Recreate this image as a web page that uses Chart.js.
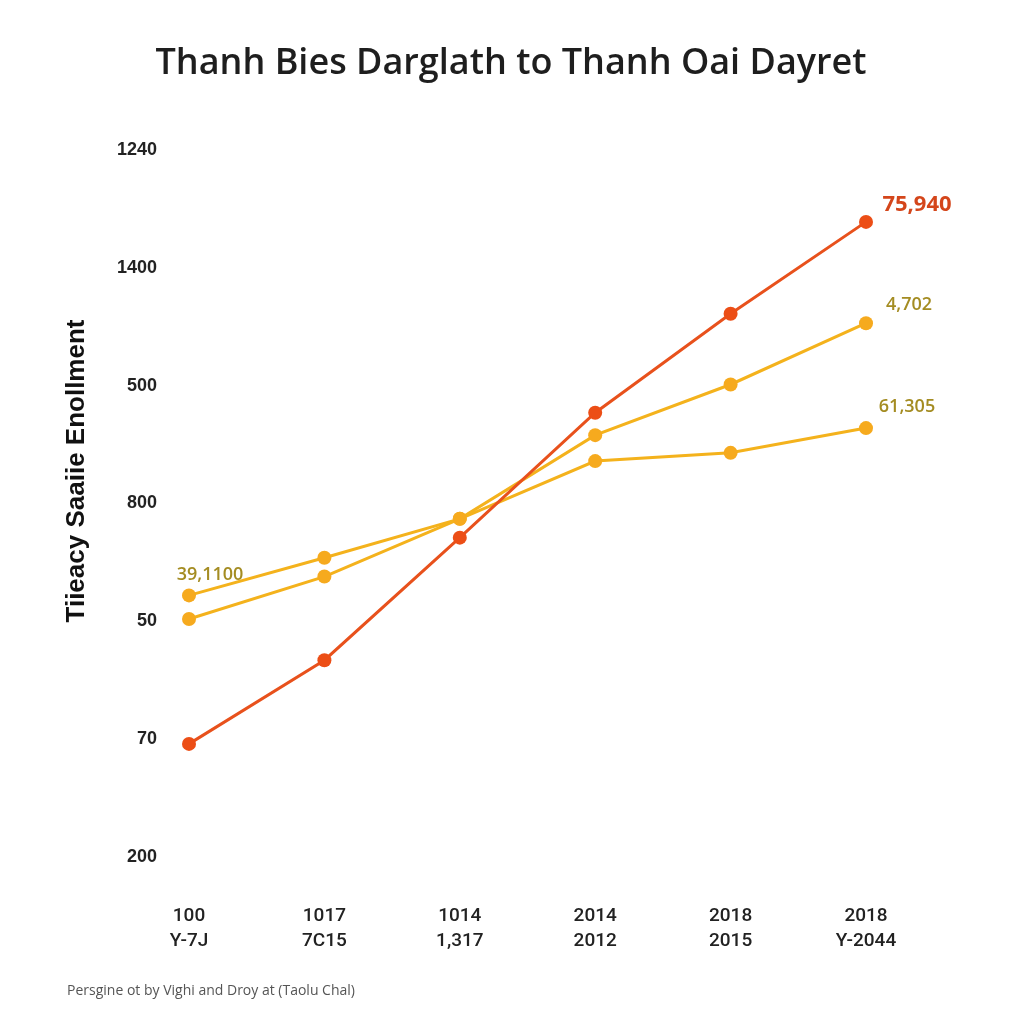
<!DOCTYPE html>
<html>
<head>
<meta charset="utf-8">
<script src="https://cdn.jsdelivr.net/npm/chart.js@4/dist/chart.umd.min.js"></script>
<style>
  html, body { margin: 0; padding: 0; background: #ffffff; }
  #wrap { position: relative; width: 1024px; height: 1024px; }
  #footer { position: absolute; left: 67px; top: 980px; font: 14px "Open Sans", sans-serif; color: #555; }
</style>
</head>
<body>
<div id="wrap">
  <canvas id="c" width="1024" height="1024"></canvas>
  <div id="footer">Persgine ot by Vighi and Droy at (Taolu Chal)</div>
</div>
<script>
const titleText = "Thanh Bies Darglath to Thanh Oai Dayret";
const yAxisTitle = "Tiieacy Saaiie Enollment";
const categories = [["100", "Y-7J"], ["1017", "7C15"], ["1014", "1,317"], ["2014", "2012"], ["2018", "2015"], ["2018", "Y-2044"]];
const yTickLabels = ["200", "70", "50", "800", "500", "1400", "1240"];
const redValues = [0.96, 1.67, 2.71, 3.77, 4.61, 5.39];
const upperYellowValues = [2.22, 2.54, 2.87, 3.58, 4.01, 4.53];
const lowerYellowValues = [2.02, 2.38, 2.87, 3.36, 3.43, 3.64];
const redLabels = [null, null, null, null, null, "75,940"];
const upperYellowLabels = ["39,1100", null, null, null, null, "4,702"];
const lowerYellowLabels = [null, null, null, null, null, "61,305"];

const labelStyles = [
  { color: "#d4461b", font: "bold 22px 'Open Sans', sans-serif", dx: 51, dy: -17 },
  { color: "#a48c22", font: "600 18px 'Open Sans', sans-serif", dx: 21, dy: -21, lastDx: 43, lastDy: -18 },
  { color: "#a48c22", font: "600 18px 'Open Sans', sans-serif", dx: 41, dy: -21 }
];

const textPlugin = {
  id: "textDecor",
  afterDraw(chart) {
    const ctx = chart.ctx;
    ctx.save();
    ctx.fillStyle = "#1e1e1e";
    ctx.font = "600 36px 'Open Sans', sans-serif";
    ctx.textAlign = "center";
    ctx.textBaseline = "middle";
    ctx.fillText(titleText, 511, 64);
    ctx.translate(77, 471);
    ctx.rotate(-Math.PI / 2);
    ctx.fillStyle = "#111";
    ctx.font = "bold 26px 'Liberation Sans', Arial, sans-serif";
    ctx.fillText(yAxisTitle, 0, 0);
    ctx.restore();
  },
  afterDatasetsDraw(chart) {
    const ctx = chart.ctx;
    chart.data.datasets.forEach((ds, i) => {
      const meta = chart.getDatasetMeta(i);
      const st = labelStyles[i];
      ds.pointLabels.forEach((txt, j) => {
        if (!txt) return;
        const p = meta.data[j];
        let dx = st.dx, dy = st.dy;
        if (j === ds.pointLabels.length - 1 && st.lastDx !== undefined) { dx = st.lastDx; dy = st.lastDy; }
        ctx.save();
        ctx.font = st.font;
        ctx.fillStyle = st.color;
        ctx.textAlign = "center";
        ctx.textBaseline = "middle";
        ctx.fillText(txt, p.x + dx, p.y + dy);
        ctx.restore();
      });
    });
  }
};

new Chart(document.getElementById("c"), {
  type: "line",
  data: {
    labels: categories,
    datasets: [
      { data: redValues, pointLabels: redLabels, borderColor: "#e8511c", backgroundColor: "#e8511c", borderWidth: 3, pointRadius: 7, pointBackgroundColor: "#ec4e16", pointBorderWidth: 0, tension: 0 },
      { data: upperYellowValues, pointLabels: upperYellowLabels, borderColor: "#f4b21c", backgroundColor: "#f4b21c", borderWidth: 3, pointRadius: 7, pointBackgroundColor: "#f6aa1e", pointBorderWidth: 0, tension: 0 },
      { data: lowerYellowValues, pointLabels: lowerYellowLabels, borderColor: "#f4b21c", backgroundColor: "#f4b21c", borderWidth: 3, pointRadius: 7, pointBackgroundColor: "#f6aa1e", pointBorderWidth: 0, tension: 0 }
    ]
  },
  options: {
    responsive: false,
    animation: false,
    layout: { padding: { left: 0, right: 158, top: 150, bottom: 57 } },
    plugins: {
      legend: { display: false },
      tooltip: { enabled: false },
      title: { display: false }
    },
    scales: {
      x: {
        offset: false,
        grid: { display: false, drawTicks: false },
        border: { display: false },
        afterFit: (axis) => { axis.height = 110; },
        ticks: { color: "#222", font: { family: "Roboto, sans-serif", size: 19, weight: "500", lineHeight: 1.32 }, padding: 47, maxRotation: 0, autoSkip: false }
      },
      y: {
        min: 0, max: 6,
        grid: { display: false, drawTicks: false },
        border: { display: false },
        afterFit: (axis) => { axis.width = 189; },
        ticks: { stepSize: 1, color: "#222", font: { family: "'Liberation Sans', Arial, sans-serif", size: 18, weight: "bold" }, padding: 32,
          callback: (v) => yTickLabels[v] }
      }
    }
  },
  plugins: [textPlugin]
});
</script>
</body>
</html>
